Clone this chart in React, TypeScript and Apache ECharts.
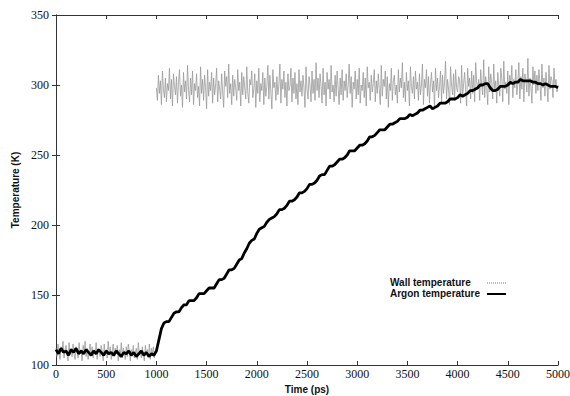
import React, { useEffect, useRef } from "react";
import * as echarts from "echarts";

// Wall temperature, 0..990 ps every 10 ps
const wallLowStart = 0;
const wallLowStep = 10;
const wallLow = [
  112, 106, 115, 108, 104, 113, 110, 117, 105, 111, 114, 107, 103, 116, 109, 112, 106, 115, 108, 104,
  113, 110, 105, 116, 108, 111, 103, 114, 109, 117, 106, 112, 104, 110, 115, 107, 113, 105, 111, 108,
  116, 104, 112, 109, 106, 114, 110, 103, 115, 108, 111, 105, 117, 107, 113, 104, 110, 115, 106, 112,
  108, 114, 103, 111, 107, 116, 105, 112, 109, 104, 113, 106, 115, 110, 103, 111, 107, 114, 105, 109,
  112, 104, 116, 108, 110, 105, 113, 107, 103, 114, 109, 111, 106, 115, 104, 112, 108, 113, 105, 110,
];
// Wall temperature, 1000..5000 ps every 10 ps
const wallHighStart = 1000;
const wallHighStep = 10;
const wallHigh = [
  298, 289, 307, 294, 303, 286, 310, 297, 291, 305, 288, 301, 296, 312, 290, 304, 285, 308, 299, 293,
  306, 287, 302, 311, 292, 300, 284, 309, 295, 303, 290, 314, 297, 288, 305, 293, 310, 286, 301, 296,
  308, 291, 299, 285, 313, 294, 304, 289, 307, 298, 283, 311, 292, 302, 296, 309, 287, 305, 293, 300,
  312, 288, 303, 297, 290, 308, 295, 284, 310, 299, 306, 291, 315, 294, 301, 286, 307, 292, 304, 298,
  289, 311, 296, 302, 285, 309, 293, 306, 298, 290, 313, 295, 287, 304, 300, 310, 291, 297, 308, 284,
  303, 294, 312, 288, 301, 296, 309, 286, 305, 292, 299, 314, 290, 307, 295, 283, 311, 298, 302, 289,
  306, 293, 300, 315, 287, 304, 297, 310, 291, 302, 285, 308, 296, 299, 312, 288, 305, 294, 309, 290,
  301, 286, 311, 295, 303, 292, 307, 298, 284, 313, 297, 290, 306, 300, 288, 310, 294, 304, 289, 316,
  296, 305, 291, 308, 299, 287, 312, 293, 302, 285, 309, 297, 304, 290, 314, 295, 300, 288, 307, 292,
  310, 298, 286, 305, 293, 311, 289, 303, 296, 308, 291, 300, 315, 294, 306, 284, 302, 297, 310, 290,
  304, 293, 312, 287, 300, 296, 309, 291, 305, 285, 313, 298, 302, 289, 307, 295, 301, 311, 288, 303,
  294, 308, 297, 286, 314, 292, 304, 299, 310, 290, 306, 284, 301, 296, 312, 289, 303, 307, 293, 300,
  287, 311, 295, 305, 298, 316, 291, 302, 288, 309, 296, 303, 285, 313, 299, 294, 306, 290, 310, 297,
  302, 289, 308, 293, 300, 315, 286, 304, 298, 311, 292, 306, 287, 301, 309, 295, 303, 284, 312, 296,
  305, 291, 299, 310, 288, 307, 294, 302, 317, 290, 304, 297, 286, 313, 300, 293, 308, 289, 311, 298,
  295, 306, 303, 287, 314, 292, 301, 309, 296, 285, 312, 299, 305, 290, 310, 294, 307, 288, 316, 302,
  297, 304, 289, 311, 300, 293, 318, 291, 306, 298, 286, 313, 295, 308, 301, 290, 315, 296, 303, 287,
  309, 299, 292, 312, 305, 288, 317, 297, 302, 294, 310, 286, 307, 300, 314, 291, 304, 298, 311, 293,
  301, 316, 290, 306, 297, 312, 288, 308, 303, 295, 319, 292, 305, 299, 287, 313, 300, 310, 294, 307,
  296, 311, 302, 289, 315, 298, 305, 292, 309, 300, 288, 314, 297, 306, 303, 291, 312, 299, 304, 295,
  300,
];
// Argon temperature, 0..1000 ps every 25 ps
const argonLowStart = 0;
const argonLowStep = 25;
const argonLow = [
  111, 108, 112, 109, 110, 107, 111, 109, 112, 108,
  110, 108, 111, 109, 107, 110, 108, 111, 109, 107,
  110, 108, 109, 107, 110, 108, 106, 109, 108, 110,
  107, 109, 106, 108, 110, 107, 109, 106, 108, 107,
  110,
];
// Argon temperature, 1050..5000 ps every 25 ps
const argonHighStart = 1050;
const argonHighStep = 25;
const argonHigh = [
  126, 130, 131, 131, 134, 137, 138, 138, 141, 143,
  143, 146, 146, 146, 148, 151, 151, 151, 153, 155,
  155, 155, 158, 161, 161, 162, 165, 168, 168, 169,
  172, 175, 176, 180, 183, 187, 189, 190, 194, 197,
  198, 199, 202, 204, 205, 206, 208, 211, 211, 212,
  214, 217, 217, 218, 220, 223, 223, 224, 226, 229,
  229, 230, 232, 235, 236, 236, 239, 242, 242, 243,
  245, 247, 247, 248, 250, 253, 253, 253, 255, 257,
  257, 258, 260, 263, 263, 264, 266, 268, 268, 268,
  270, 272, 272, 273, 274, 276, 276, 276, 277, 279,
  278, 279, 280, 282, 282, 283, 284, 285, 283, 284,
  285, 287, 287, 287, 288, 290, 290, 290, 291, 293,
  292, 293, 294, 296, 296, 297, 298, 300, 300, 301,
  301, 298, 296, 296, 297, 299, 299, 299, 300, 302,
  301, 302, 302, 304, 303, 303, 303, 303, 302, 302,
  301, 301, 300, 301, 300, 299, 299, 299, 298,
];

const xTicks = [0, 500, 1000, 1500, 2000, 2500, 3000, 3500, 4000, 4500, 5000];
const yTicks = [100, 150, 200, 250, 300, 350];

const seriesNames = ["Wall temperature", "Argon temperature"];

function pairs(start: number, step: number, vals: number[]) {
  return vals.map((v, i) => [start + i * step, v]);
}

export default function App() {
  const ref = useRef<HTMLDivElement>(null);
  useEffect(() => {
    if (!ref.current) return;
    const chart = echarts.init(ref.current, undefined, { renderer: "svg" });
    const wallData: any[] = [
      ...pairs(wallLowStart, wallLowStep, wallLow),
      [995, null],
      ...pairs(wallHighStart, wallHighStep, wallHigh),
    ];
    const argonData = [
      ...pairs(argonLowStart, argonLowStep, argonLow),
      ...pairs(argonHighStart, argonHighStep, argonHigh),
    ];
    const axisLine = { show: true, lineStyle: { color: "#333", width: 1 } };
    const tick = { show: true, inside: true, length: 4, lineStyle: { color: "#333" } };
    const serif = "'Liberation Serif', 'Times New Roman', serif";
    const sans = "'Liberation Sans', Arial, sans-serif";
    const legendFont = `bold 10px ${sans}`;
    chart.setOption({
      animation: false,
      backgroundColor: "#fff",
      grid: {
        left: 56,
        right: 12,
        top: 15,
        bottom: 31,
        containLabel: false,
        outerBoundsMode: "none",
      },
      graphic: [
        {
          type: "text",
          left: 390,
          top: 277,
          style: { text: seriesNames[0], font: legendFont, fill: "#111" },
        },
        {
          type: "text",
          left: 390,
          top: 288,
          style: { text: seriesNames[1], font: legendFont, fill: "#111" },
        },
        {
          type: "line",
          shape: { x1: 487, y1: 283, x2: 506, y2: 283 },
          style: { stroke: "#777", lineWidth: 1, lineDash: [1, 1] },
        },
        {
          type: "line",
          shape: { x1: 487, y1: 294, x2: 506, y2: 294 },
          style: { stroke: "#000", lineWidth: 2 },
        },
      ],
      xAxis: [
        {
          type: "value",
          min: 0,
          max: 5000,
          interval: 500,
          name: "Time (ps)",
          nameLocation: "middle",
          nameGap: 13,
          nameTextStyle: { fontFamily: sans, fontWeight: "bold", fontSize: 10, color: "#111" },
          axisLine,
          axisTick: tick,
          splitLine: { show: false },
          axisLabel: {
            margin: 3,
            fontFamily: serif,
            fontSize: 12,
            color: "#111",
            formatter: (v: number) => (xTicks.includes(v) ? String(v) : ""),
          },
        },
        {
          type: "value",
          position: "top",
          min: 0,
          max: 5000,
          interval: 500,
          axisLine,
          axisTick: tick,
          axisLabel: { show: false },
          splitLine: { show: false },
        },
      ],
      yAxis: [
        {
          type: "value",
          min: 100,
          max: 350,
          interval: 50,
          name: "Temperature (K)",
          nameLocation: "middle",
          nameGap: 32,
          nameRotate: 90,
          nameTextStyle: { fontFamily: sans, fontWeight: "bold", fontSize: 10, color: "#111" },
          axisLine,
          axisTick: tick,
          splitLine: { show: false },
          axisLabel: {
            margin: 7,
            fontFamily: serif,
            fontSize: 12,
            color: "#111",
            formatter: (v: number) => (yTicks.includes(v) ? String(v) : ""),
          },
        },
        {
          type: "value",
          position: "right",
          min: 100,
          max: 350,
          interval: 50,
          axisLine,
          axisTick: tick,
          axisLabel: { show: false },
          splitLine: { show: false },
        },
      ],
      series: [
        {
          name: seriesNames[0],
          type: "line",
          data: wallData,
          symbol: "none",
          connectNulls: false,
          lineStyle: { color: "#999", width: 0.8 },
          itemStyle: { color: "#999" },
          z: 2,
        },
        {
          name: seriesNames[1],
          type: "line",
          data: argonData,
          symbol: "none",
          lineStyle: { color: "#000", width: 2.8 },
          itemStyle: { color: "#000" },
          z: 3,
        },
      ],
    });
    return () => chart.dispose();
  }, []);
  return (
    <div
      ref={ref}
      style={{ position: "absolute", left: 0, top: 0, width: 570, height: 396 }}
    />
  );
}
